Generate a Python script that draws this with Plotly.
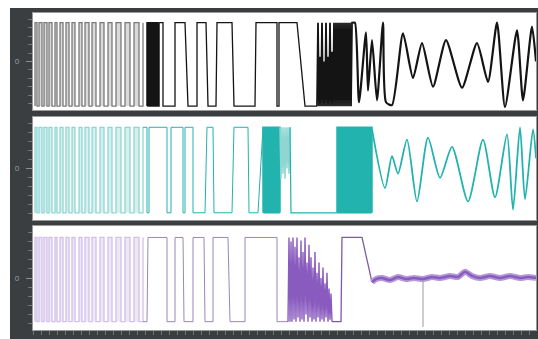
import plotly.graph_objects as go
from plotly.subplots import make_subplots

# ---------------- data (time in px-like units, level 0-100) -------------
# shared fast "chirp" pulse train on the left of every channel (transition times)
chirp_edges = [35, 37, 39, 42, 44, 47, 49, 52, 55, 57, 60, 63, 66, 69, 72, 75, 79, 82, 85,
               89, 92, 96, 100, 104, 108, 112, 116, 121, 125, 130, 134, 139, 143]

# channel 1 (black)
ch1_burst_a = [147, 148, 149, 150, 151, 152, 153, 154, 155, 156, 157, 158, 159]
ch1_step_x = [159, 163, 163, 175, 175, 185, 188, 197, 197, 206, 208, 216, 217, 232, 234,
              255, 256, 277, 277, 279, 279, 297, 305, 317]
ch1_step_y = [90, 90, 4, 4, 90, 90, 4, 4, 90, 90, 4, 4, 90, 90, 4,
              4, 90, 90, 4, 4, 90, 90, 4, 4]
ch1_burst_b_x = [317, 318, 319, 320, 321, 322, 323, 324, 325, 326, 327, 328, 329, 330, 331, 332,
                 333, 334, 335, 336, 337, 338, 339, 340, 341, 342, 343, 344, 345, 346, 347, 348,
                 349, 350, 351, 352, 353]
ch1_burst_b_y = [4, 90, 4, 55, 4, 90, 4, 50, 4, 90, 4, 55, 4, 90, 4, 60, 4, 90, 4, 90, 4, 90, 4,
                 90, 4, 90, 4, 90, 4, 90, 4, 90, 4, 90, 4, 90, 90]
ch1_wave_x = [353, 355, 359, 366, 368, 372, 377, 383, 386, 392, 403, 413, 422, 433, 446, 462,
              477, 488, 497, 505, 517, 523, 532, 536]
ch1_wave_y = [90, 90, 8, 80, 20, 72, 10, 90, 8, 5, 79, 33, 69, 24, 72, 23,
              69, 29, 90, 3, 82, 10, 86, 50]

# channel 2 (teal)
ch2_step_x = [143, 147, 147, 149, 149, 167, 167, 171, 171, 183, 183, 185, 185, 193, 193, 205,
              207, 213, 214, 232, 234, 248, 249, 252, 258, 263]
ch2_step_y = [90, 90, 7, 7, 90, 90, 7, 7, 90, 90, 7, 7, 90, 90, 7, 7,
              90, 90, 7, 7, 90, 90, 7, 7, 7, 90]
ch2_burst_a = [263, 264, 265, 266, 267, 268, 269, 270, 271, 272, 273, 274, 275, 276, 277, 278,
               279, 280]
ch2_light_x = [280, 281, 282, 283, 284, 285, 286, 287, 288, 289, 290]
ch2_light_y = [90, 40, 90, 45, 90, 40, 90, 50, 90, 45, 90]
ch2_flat_x = [290, 291, 336, 337]
ch2_flat_y = [90, 7, 7, 7]
ch2_burst_b = [337, 338, 339, 340, 341, 342, 343, 344, 345, 346, 347, 348, 349, 350, 351, 352,
               353, 354, 355, 356, 357, 358, 359, 360, 361, 362, 363, 364, 365, 366, 367, 368,
               369, 370, 371, 372]
ch2_wave_x = [372, 385, 392, 398, 407, 417, 428, 440, 452, 468, 483, 495, 507, 513, 520, 525,
              533, 536]
ch2_wave_y = [88, 31, 62, 45, 78, 18, 80, 41, 71, 18, 78, 22, 83, 10, 90, 20, 88, 60]

# channel 3 (purple)
ch3_step_x = [143, 147, 148, 167, 167, 175, 175, 183, 184, 193, 193, 204, 205, 213, 213, 228,
              230, 245, 245, 277, 277, 288]
ch3_step_y = [8, 8, 89, 89, 8, 8, 89, 89, 8, 8, 89, 89, 8, 8, 89, 89,
              8, 8, 89, 89, 8, 8]
ch3_burst_x = [288, 289, 290, 291, 292, 293, 294, 295, 296, 297, 298, 299, 300, 301, 302, 303,
               304, 305, 306, 307, 308, 309, 310, 311, 312, 313, 314, 315, 316, 317, 318, 319,
               320, 321, 322, 323, 324, 325, 326, 327, 328, 329, 330, 331, 332]
ch3_burst_y = [8, 89, 8, 85, 8, 89, 10, 80, 8, 89, 12, 70, 8, 86, 10, 75, 8, 89, 15, 65,
               8, 82, 12, 70, 8, 60, 10, 75, 8, 55, 12, 65, 8, 50, 10, 60, 8, 45, 12, 55,
               8, 40, 10, 35, 8]
ch3_rise_x = [332, 341, 342, 362, 372]
ch3_rise_y = [8, 8, 89, 89, 46]
ch3_tail_x = [372, 376, 382, 390, 398, 406, 414, 423, 432, 440, 450, 458,
              465, 472, 480, 490, 500, 510, 520, 528, 536]
ch3_tail_y = [46, 49, 50, 48, 51, 49, 50, 49, 51, 50, 52, 51,
              56, 52, 50, 52, 50, 52, 50, 51, 50]
ch3_glitch_x = [423, 423]
ch3_glitch_y = [50, 3]


def edges_to_steps(edges, hi, lo, start_high=False):
    xs, ys = [], []
    high = start_high
    for e in edges:
        xs += [e, e]
        ys += [hi if high else lo, lo if high else hi]
        high = not high
    return xs, ys


def add_chirp(row, hi, lo, line_color, fill_color):
    cx, cy = edges_to_steps(chirp_edges, hi, lo)
    fig.add_trace(go.Scatter(x=[cx[0], cx[-1]], y=[lo, lo], mode="lines",
                             line=dict(width=0), hoverinfo="skip"), row, 1)
    fig.add_trace(go.Scatter(x=cx, y=cy, mode="lines", line=dict(color=line_color, width=1.3),
                             fill="tonexty", fillcolor=fill_color), row, 1)


fig = make_subplots(rows=3, cols=1, shared_xaxes=False, vertical_spacing=0.0)

BLACK = "#141414"
GRAY = "#7a7a7a"
TEAL = "#22b3ae"
LTEAL = "#8fd6d3"
PURP = "#8a5bbf"
LPURP = "#d2c0ea"

# channel 1
add_chirp(1, 90, 4, GRAY, "rgba(150,150,150,0.35)")
bx, by = edges_to_steps(ch1_burst_a, 90, 4)
fig.add_trace(go.Scatter(x=bx, y=by, mode="lines", line=dict(color=BLACK, width=1.5)), 1, 1)
fig.add_trace(go.Scatter(x=ch1_step_x, y=ch1_step_y, mode="lines", line=dict(color=BLACK, width=1.3)), 1, 1)
fig.add_trace(go.Scatter(x=ch1_burst_b_x, y=ch1_burst_b_y, mode="lines", line=dict(color=BLACK, width=1.8)), 1, 1)
fig.add_trace(go.Scatter(x=ch1_wave_x, y=ch1_wave_y, mode="lines",
                         line=dict(color=BLACK, width=2.2, shape="spline", smoothing=0.6)), 1, 1)

# channel 2
add_chirp(2, 90, 7, LTEAL, "rgba(160,222,219,0.45)")
fig.add_trace(go.Scatter(x=ch2_step_x, y=ch2_step_y, mode="lines", line=dict(color=TEAL, width=1)), 2, 1)
bx, by = edges_to_steps(ch2_burst_a, 90, 7)
fig.add_trace(go.Scatter(x=bx, y=by, mode="lines", line=dict(color=TEAL, width=1.5)), 2, 1)
fig.add_trace(go.Scatter(x=ch2_light_x, y=ch2_light_y, mode="lines", line=dict(color=LTEAL, width=1.5)), 2, 1)
fig.add_trace(go.Scatter(x=ch2_flat_x, y=ch2_flat_y, mode="lines", line=dict(color=TEAL, width=1.2)), 2, 1)
bx, by = edges_to_steps(ch2_burst_b, 90, 7)
fig.add_trace(go.Scatter(x=bx, y=by, mode="lines", line=dict(color=TEAL, width=1.5)), 2, 1)
fig.add_trace(go.Scatter(x=ch2_wave_x, y=ch2_wave_y, mode="lines",
                         line=dict(color=TEAL, width=1.8, shape="spline", smoothing=0.7)), 2, 1)

# channel 3
add_chirp(3, 89, 8, LPURP, "rgba(222,208,240,0.5)")
fig.add_trace(go.Scatter(x=ch3_step_x, y=ch3_step_y, mode="lines", line=dict(color="#9a86b8", width=1)), 3, 1)
fig.add_trace(go.Scatter(x=ch3_burst_x, y=ch3_burst_y, mode="lines", line=dict(color=PURP, width=1.4)), 3, 1)
fig.add_trace(go.Scatter(x=ch3_rise_x, y=ch3_rise_y, mode="lines", line=dict(color="#7d5aa8", width=1.3)), 3, 1)
fig.add_trace(go.Scatter(x=ch3_glitch_x, y=ch3_glitch_y, mode="lines", line=dict(color="#9a9a9a", width=1)), 3, 1)
fig.add_trace(go.Scatter(x=ch3_tail_x, y=ch3_tail_y, mode="lines",
                         line=dict(color="#b59ad8", width=6, shape="spline", smoothing=0.6)), 3, 1)
fig.add_trace(go.Scatter(x=ch3_tail_x, y=ch3_tail_y, mode="lines",
                         line=dict(color=PURP, width=2.5, shape="spline", smoothing=0.6)), 3, 1)

domains = [[0.694, 1.0], [0.347, 0.672], [0.0, 0.328]]
for i, d in enumerate(domains, start=1):
    fig.update_yaxes(row=i, col=1, domain=d, range=[0, 100], showgrid=False, zeroline=False,
                     showline=True, mirror=True, linecolor="#9a9a9a", linewidth=1,
                     tickmode="array", tickvals=[50], ticktext=["0"], ticks="outside",
                     ticklen=6, tickcolor="#8a8f8f", tickfont=dict(size=8, color="#9aa0a0"),
                     ticklabelstandoff=5,
                     minor=dict(ticks="outside", ticklen=4, tickcolor="#70767a", dtick=8.7,
                                tick0=50))
    fig.update_xaxes(row=i, col=1, range=[33, 536], showgrid=False, zeroline=False,
                     showline=True, mirror=True, linecolor="#9a9a9a", linewidth=1,
                     showticklabels=False, ticks="", fixedrange=True)
fig.update_xaxes(row=3, col=1, ticks="outside", ticklen=4, tickcolor="#6f7578", dtick=8,
                 tick0=33)

fig.update_layout(
    width=538, height=339, showlegend=False,
    margin=dict(l=33, r=2, t=13, b=9),
    paper_bgcolor="#3b3e40", plot_bgcolor="white",
    shapes=[
        dict(type="rect", xref="paper", yref="paper", x0=-0.08, x1=(10 - 33) / 503,
             y0=-0.05, y1=1.06, fillcolor="white", line=dict(width=0), layer="below"),
        dict(type="rect", xref="paper", yref="paper", x0=-0.08, x1=1.01,
             y0=(330 - 8) / 317, y1=1.06, fillcolor="white", line=dict(width=0), layer="below"),
    ],
)

fig.write_html("out.html")
